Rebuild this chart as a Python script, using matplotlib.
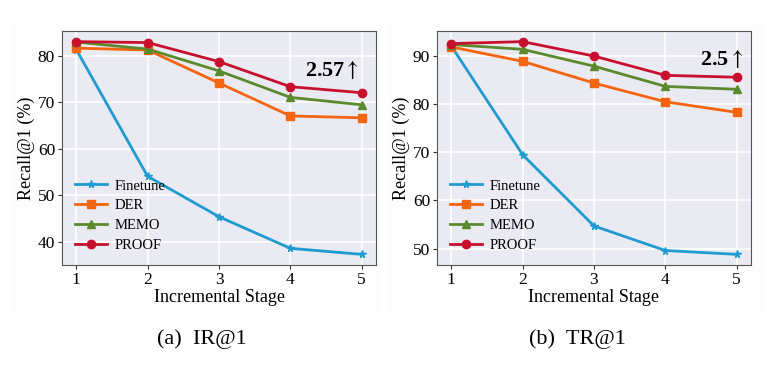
import matplotlib
matplotlib.use("Agg")
import matplotlib.pyplot as plt
from matplotlib.patches import Rectangle

plt.rcParams['font.family'] = ['Liberation Serif', 'DejaVu Serif']
plt.rcParams['mathtext.fontset'] = 'stix'

stages = [1, 2, 3, 4, 5]
methods = ["Finetune", "DER", "MEMO", "PROOF"]

ir_finetune = [81.4, 54.1, 45.4, 38.6, 37.3]
ir_der = [81.7, 81.3, 74.2, 67.1, 66.7]
ir_memo = [83.0, 81.5, 76.8, 71.1, 69.5]
ir_proof = [83.1, 82.9, 78.8, 73.4, 72.1]

tr_finetune = [92.1, 69.5, 54.7, 49.6, 48.8]
tr_der = [91.9, 88.9, 84.4, 80.5, 78.3]
tr_memo = [92.4, 91.4, 87.9, 83.7, 83.1]
tr_proof = [92.6, 93.0, 90.0, 86.0, 85.6]

colors = ["#1f9bd0", "#f5640f", "#5b8a2e", "#c8102e"]
markers = ["*", "s", "^", "o"]
msizes = [5.5, 6, 6, 6]

panels = [
    ([ir_finetune, ir_der, ir_memo, ir_proof], "2.57", "(a)  IR@1", (0.943, 0.785)),
    ([tr_finetune, tr_der, tr_memo, tr_proof], "2.5", "(b)  TR@1", (0.975, 0.835)),
]

fig = plt.figure(figsize=(7.7, 3.82), dpi=100)
W, H = 770, 382
boxes = [(62, 31, 376, 265), (437, 31, 751, 265)]
bgs = [(13, 23, 382, 312), (390, 23, 762, 312)]
for (bx0, by0, bx1, by1) in bgs:
    fig.patches.append(Rectangle((bx0 / W, 1 - by1 / H), (bx1 - bx0) / W, (by1 - by0) / H,
                                 transform=fig.transFigure, facecolor="#fdfdfd",
                                 edgecolor="none", zorder=-10))

for (series, gain, caption, gpos), (x0, y0, x1, y1) in zip(panels, boxes):
    ax = fig.add_axes([x0 / W, 1 - y1 / H, (x1 - x0) / W, (y1 - y0) / H])
    ax.set_zorder(1)
    ax.set_facecolor("#eaeaf2")
    ax.grid(True, color="white", linewidth=1.2)
    ax.set_axisbelow(True)
    for sp in ax.spines.values():
        sp.set_color("#555555")
        sp.set_linewidth(0.8)
    for vals, name, c, m, ms in zip(series, methods, colors, markers, msizes):
        ax.plot(stages, vals, color=c, marker=m, markersize=ms, linewidth=2, label=name)
    ax.set_xticks(stages)
    ax.tick_params(axis="both", labelsize=12.5, length=3, width=0.8, colors="#333333",
                   labelcolor="black", pad=2)
    ax.set_xlabel("Incremental Stage", fontsize=13, labelpad=1)
    ax.set_ylabel("Recall@1 (%)", fontsize=13, labelpad=2)
    ax.legend(loc="lower left", frameon=False, fontsize=10.5, handlelength=2.2,
              handletextpad=0.5, borderaxespad=0.5, labelspacing=0.45)
    ax.text(gpos[0], gpos[1], gain + r"$\uparrow$", transform=ax.transAxes, ha="right",
            va="bottom", fontsize=16, fontweight="bold")
    fig.text(((x0 + x1) / 2 - 17) / W, 1 - 339 / H, caption, ha="center", va="center",
             fontsize=16)

fig.savefig("out.png", dpi=100, facecolor="white")
